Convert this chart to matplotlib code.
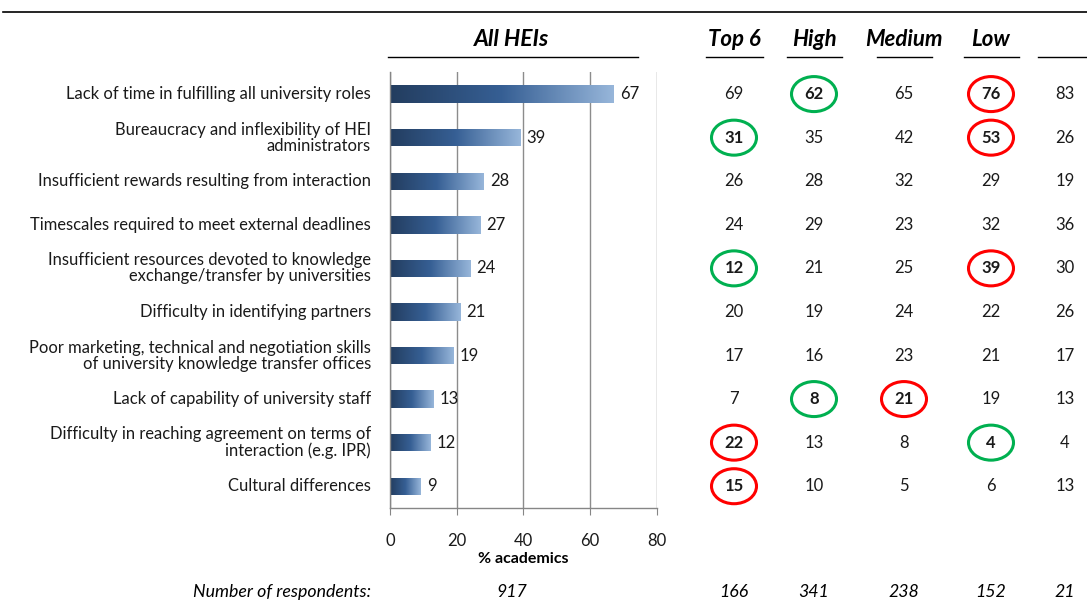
import numpy as np
import matplotlib
matplotlib.use("Agg")
import matplotlib.pyplot as plt
from matplotlib.patches import Ellipse
from matplotlib.transforms import blended_transform_factory
from matplotlib.colors import LinearSegmentedColormap

plt.rcParams['font.family'] = ['Lato', 'DejaVu Sans']

categories = [
    "Lack of time in fulfilling all university roles",
    "Bureaucracy and inflexibility of HEI\nadministrators",
    "Insufficient rewards resulting from interaction",
    "Timescales required to meet external deadlines",
    "Insufficient resources devoted to knowledge\nexchange/transfer by universities",
    "Difficulty in identifying partners",
    "Poor marketing, technical and negotiation skills\nof university knowledge transfer offices",
    "Lack of capability of university staff",
    "Difficulty in reaching agreement on terms of\ninteraction (e.g. IPR)",
    "Cultural differences",
]
all_heis = [67, 39, 28, 27, 24, 21, 19, 13, 12, 9]
col_headers = ["Top 6", "High", "Medium", "Low", ""]
top6 = [69, 31, 26, 24, 12, 20, 17, 7, 22, 15]
high = [62, 35, 28, 29, 21, 19, 16, 8, 13, 10]
medium = [65, 42, 32, 23, 25, 24, 23, 21, 8, 5]
low = [76, 53, 29, 32, 39, 22, 21, 19, 4, 6]
other = [83, 26, 19, 36, 30, 26, 17, 13, 4, 13]
respondents_all = 917
respondents = [166, 341, 238, 152, 21]
# (column index, row index) of circled cells
green_marks = [(1, 0), (0, 1), (0, 4), (1, 7), (3, 8)]
red_marks = [(3, 0), (3, 1), (3, 4), (2, 7), (0, 8), (0, 9)]

W, H = 1087, 603
fig = plt.figure(figsize=(W / 100, H / 100), dpi=100)

# overlay axes in pixel coordinates
ov = fig.add_axes([0, 0, 1, 1])
ov.set_xlim(0, W)
ov.set_ylim(H, 0)
ov.axis('off')

# bar axes
ax_l, ax_r, ax_t, ax_b = 390, 656.7, 72.3, 508
ax = fig.add_axes([ax_l / W, 1 - ax_b / H, (ax_r - ax_l) / W, (ax_b - ax_t) / H])
n = len(categories)
ypos = np.arange(n)
ax.set_xticks([0, 20, 40, 60, 80])
ax.tick_params(axis='x', length=5, color='#868686', labelsize=12, pad=13, direction='out',
               labelcolor='#1a1a1a')
ax.set_yticks([])
ax.grid(axis='x', color='#8c8c8c', lw=1)
ax.set_axisbelow(True)
for s in ['top', 'right']:
    ax.spines[s].set_visible(False)
for s in ['left', 'bottom']:
    ax.spines[s].set_color('#868686')
    ax.spines[s].set_linewidth(1)
ax.set_xlabel("% academics", fontsize=11.5, fontweight='bold', labelpad=2)

# gradient bars
cmap = LinearSegmentedColormap.from_list('g', [(0, '#233d5f'), (0.5, '#365f94'), (1, '#97b6da')])
grad = np.linspace(0, 1, 256).reshape(1, -1)
bh = 0.4
bars = ax.barh(ypos, all_heis, height=bh, color='none', edgecolor='none')
for b, v in zip(bars, all_heis):
    im = ax.imshow(grad, cmap=cmap, aspect='auto',
                   extent=[0, v, b.get_y() + bh, b.get_y()], zorder=2)
    im.set_clip_path(b)
    ax.text(v + 2, b.get_y() + bh / 2, str(v), va='center', ha='left', fontsize=12, color='#1a1a1a')
ax.set_xlim(0, 80)
ax.set_ylim(n - 0.5, -0.5)

# category labels
tr = blended_transform_factory(ov.transData, ax.transData)
for i, c in enumerate(categories):
    ov.text(371, i, c, transform=tr, ha='right', va='center', fontsize=11.9, linespacing=1.0, color='#1a1a1a')

# top rule
ov.plot([3, W], [12, 12], color='black', lw=1.2)

# headers
hdr_y, ul_y = 40, 57
ov.text(512, hdr_y, "All HEIs", ha='center', va='center', fontsize=16.5, fontweight='bold', style='italic')
ov.plot([388, 638], [ul_y, ul_y], color='black', lw=1)
col_x = [734, 814, 904, 991, 1065]
ul_spans = [(706, 763), (787, 842), (877, 932), (964, 1019), (1038, 1087)]
for x, h, (a, b) in zip(col_x, col_headers, ul_spans):
    if h:
        ov.text(x, hdr_y, h, ha='center', va='center', fontsize=16, fontweight='bold', style='italic')
    ov.plot([a, b], [ul_y, ul_y], color='black', lw=1)

# table values
columns = [top6, high, medium, low, other]
marked = {(c, r): '#00b050' for c, r in green_marks}
marked.update({(c, r): '#ff0000' for c, r in red_marks})
for ci, (x, vals) in enumerate(zip(col_x, columns)):
    for ri, v in enumerate(vals):
        key = (ci, ri)
        bold = key in marked
        ov.text(x, ri, str(v), transform=tr, ha='center', va='center', fontsize=12,
                fontweight='bold' if bold else 'normal', color='#1a1a1a')
        if bold:
            ypix = H - ax.transData.transform((0, ri))[1]
            e = Ellipse((x, ypix), 45, 35, fill=False, edgecolor=marked[key], lw=2.2)
            ov.add_patch(e)

# respondents row
ry = 592
ov.text(371, ry, "Number of respondents:", ha='right', va='center', fontsize=12.8, style='italic')
ov.text(512, ry, str(respondents_all), ha='center', va='center', fontsize=12.8, style='italic')
for x, v in zip(col_x, respondents):
    ov.text(x, ry, str(v), ha='center', va='center', fontsize=12.8, style='italic')

fig.savefig("out.png", dpi=100)
